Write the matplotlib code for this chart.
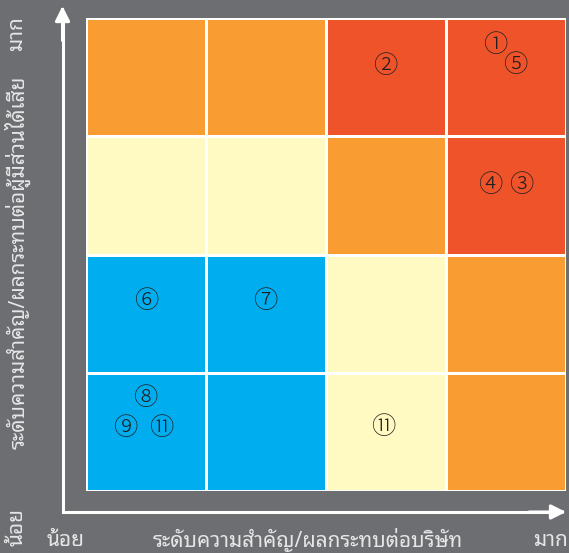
import matplotlib
matplotlib.use("Agg")
import numpy as np
import matplotlib.pyplot as plt
from matplotlib import font_manager as fm
from matplotlib.colors import ListedColormap

# ระดับความเสี่ยงของแต่ละช่อง (แถวบนลงล่าง): 0=ฟ้า 1=เหลือง 2=ส้ม 3=แดง
levels = [
    [2, 2, 3, 3],
    [1, 1, 2, 3],
    [0, 0, 1, 2],
    [0, 0, 1, 2],
]
level_colors = ["#00AEEF", "#FFF9C2", "#F99D33", "#EE5329"]

# หมายเลขความเสี่ยงและตำแหน่ง (แกน x = ผลกระทบต่อบริษัท, แกน y = ต่อผู้มีส่วนได้เสีย)
risk_labels = ["①", "⑤", "②", "④", "③", "⑥", "⑦", "⑧", "⑨", "⑪", "⑪"]
risk_x = [3.41, 3.58, 2.49, 3.37, 3.63, 0.50, 1.49, 0.49, 0.33, 0.63, 2.48]
risk_y = [3.77, 3.60, 3.59, 2.58, 2.58, 1.60, 1.60, 0.78, 0.53, 0.53, 0.54]

x_title = "ระดับความสำคัญ/ผลกระทบต่อบริษัท"
y_title = "ระดับความสำคัญ/ผลกระทบต่อผู้มีส่วนได้เสีย"
low_text = "น้อย"
high_text = "มาก"

BG = "#6D6E71"
FG = "#E6E6E7"


def thai_font():
    """หาฟอนต์ที่มีอักษรไทย (ชอบแบบมีหัวก่อน)"""
    for name in ["Noto Sans Thai Looped", "Sarabun", "Loma", "Garuda", "Tahoma",
                 "Noto Sans Thai", "Noto Sans Thai UI", "Leelawadee UI", "Norasi"]:
        try:
            fm.findfont(name, fallback_to_default=False)
            return name
        except Exception:
            pass
    try:
        from fontTools.ttLib import TTFont
        for f in fm.fontManager.ttflist:
            try:
                tt = TTFont(f.fname, fontNumber=0, lazy=True)
                if 0x0E01 in tt.getBestCmap():
                    return f.name
            except Exception:
                continue
    except Exception:
        pass
    return "DejaVu Sans"


TH = [thai_font(), "DejaVu Sans"]
NUM = ["Noto Sans CJK JP", "DejaVu Sans"]

W, H = 569, 553
fig = plt.figure(figsize=(W / 100, H / 100), dpi=100, facecolor=BG)


def fx(px):
    return px / W


def fy(py):
    return 1 - py / H


# ตาราง 4x4
ax = fig.add_axes([fx(86), fy(491), fx(566) - fx(86), fy(18) - fy(491)])
ax.set_facecolor(BG)
grid = np.array(levels)[::-1]
ax.pcolormesh(np.arange(5), np.arange(5), grid, cmap=ListedColormap(level_colors),
              vmin=-0.5, vmax=3.5, edgecolors="white", linewidth=1.0)
ax.set_xlim(0, 4)
ax.set_ylim(0, 4)
ax.axis("off")

for lab, x, y in zip(risk_labels, risk_x, risk_y):
    ax.text(x, y, lab, family=NUM, fontsize=17.5, color="#231F20",
            fontweight="light", ha="center", va="center")

# ลูกศรแกน
ox, oy = fx(62.5), fy(512)
arrow = dict(arrowstyle="-|>", color="white", lw=2.2, mutation_scale=22,
             shrinkA=0, shrinkB=0, capstyle="projecting")
fig.add_artist(plt.Line2D([ox, ox], [oy, fy(15)], color="white", lw=2.2,
                          solid_capstyle="projecting"))
fig.add_artist(plt.Line2D([ox, fx(555)], [oy, oy], color="white", lw=2.2,
                          solid_capstyle="projecting"))
ax.annotate("", xy=(ox, fy(6)), xytext=(ox, fy(40)), xycoords="figure fraction",
            arrowprops=arrow)
ax.annotate("", xy=(fx(566), oy), xytext=(fx(530), oy), xycoords="figure fraction",
            arrowprops=arrow)

# ข้อความ
fs = 15
fig.text(fx(47), fy(540), low_text, family=TH, fontsize=fs, color=FG,
         ha="left", va="center")
fig.text(fx(308), fy(540), x_title, family=TH, fontsize=fs, color=FG,
         ha="center", va="center")
fig.text(fx(568), fy(540), high_text, family=TH, fontsize=fs, color=FG,
         ha="right", va="center")
fig.text(fx(17), fy(527), low_text, family=TH, fontsize=fs, color=FG,
         ha="center", va="center", rotation=90)
fig.text(fx(17), fy(262), y_title, family=TH, fontsize=fs, color=FG,
         ha="center", va="center", rotation=90)
fig.text(fx(17), fy(34), high_text, family=TH, fontsize=fs, color=FG,
         ha="center", va="center", rotation=90)

fig.savefig("out.png", dpi=100, facecolor=BG)
